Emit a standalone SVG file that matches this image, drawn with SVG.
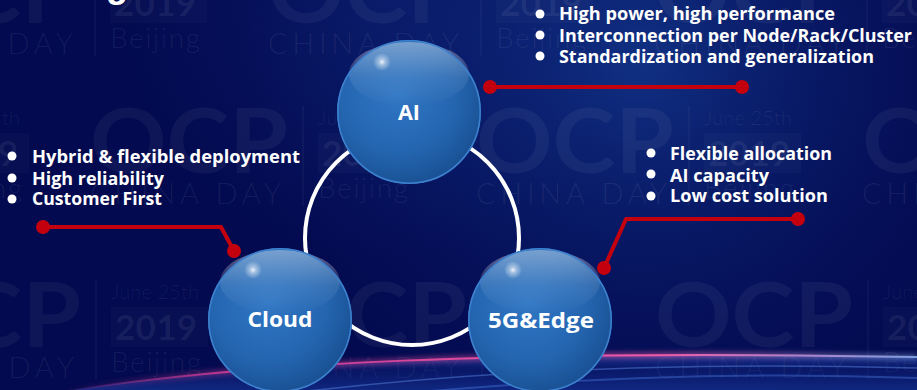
<svg xmlns="http://www.w3.org/2000/svg" width="917" height="390" viewBox="0 0 917 390">
<defs>
<style>
.bul{font-family:"Open Sans","Noto Sans","DejaVu Sans",sans-serif;font-weight:700;font-size:17.5px;fill:#fff}
.lbl{font-family:"Open Sans","Noto Sans","DejaVu Sans",sans-serif;font-weight:700;font-size:21px;fill:#fff;text-anchor:middle}
.wm{font-family:"Lato","Open Sans",sans-serif;fill:#fff}
.thin{font-weight:300;fill-opacity:0.07}
.red{stroke:#c4000f;stroke-width:4;fill:none;stroke-linejoin:round}
.dot{fill:#c4000f}
.bd{fill:#fff}
</style>
<radialGradient id="glowTop" cx="640" cy="60" r="400" gradientUnits="userSpaceOnUse">
<stop offset="0" stop-color="#1a4aa6" stop-opacity="0.6"/>
<stop offset="0.6" stop-color="#10308a" stop-opacity="0.22"/>
<stop offset="1" stop-color="#0a1f70" stop-opacity="0"/>
</radialGradient>
<radialGradient id="glowTL" cx="380" cy="0" r="260" gradientUnits="userSpaceOnUse">
<stop offset="0" stop-color="#12308a" stop-opacity="0.35"/>
<stop offset="1" stop-color="#12308a" stop-opacity="0"/>
</radialGradient>
<linearGradient id="bottomFill" x1="0" y1="0" x2="0" y2="1">
<stop offset="0" stop-color="#2b55c4" stop-opacity="0.55"/>
<stop offset="0.4" stop-color="#142f94" stop-opacity="0.35"/>
<stop offset="1" stop-color="#1d44b0" stop-opacity="0.6"/>
</linearGradient>
<linearGradient id="pink" x1="60" y1="0" x2="917" y2="0" gradientUnits="userSpaceOnUse">
<stop offset="0" stop-color="#e0409a" stop-opacity="0"/>
<stop offset="0.2" stop-color="#e0409a" stop-opacity="0.8"/>
<stop offset="0.7" stop-color="#f05aa8" stop-opacity="1"/>
<stop offset="1" stop-color="#8fb4f0" stop-opacity="0.8"/>
</linearGradient>
<filter id="blur" x="-10%" y="-200%" width="120%" height="500%">
<feGaussianBlur stdDeviation="2.5"/>
</filter>
<radialGradient id="sph" cx="0.42" cy="0.38" r="0.62">
<stop offset="0" stop-color="#3076c4"/>
<stop offset="0.65" stop-color="#2465b0"/>
<stop offset="1" stop-color="#1a5295"/>
</radialGradient>
<linearGradient id="gloss" x1="0" y1="0" x2="0" y2="1">
<stop offset="0" stop-color="#fff" stop-opacity="0.38"/>
<stop offset="0.55" stop-color="#fff" stop-opacity="0.1"/>
<stop offset="1" stop-color="#fff" stop-opacity="0"/>
</linearGradient>
<radialGradient id="spot">
<stop offset="0" stop-color="#fff" stop-opacity="0.9"/>
<stop offset="0.35" stop-color="#fff" stop-opacity="0.45"/>
<stop offset="1" stop-color="#fff" stop-opacity="0"/>
</radialGradient>
<g id="tile" class="wm">
<text x="0" y="65" font-size="90" font-weight="700" fill-opacity="0.05" textLength="198" lengthAdjust="spacingAndGlyphs">OCP</text>
<text x="0" y="96" font-size="29" class="thin" textLength="191" lengthAdjust="spacing">CHINA DAY</text>
<line x1="213" y1="-2" x2="213" y2="98" stroke="#fff" stroke-opacity="0.07" stroke-width="1"/>
<text x="228" y="17" font-size="20" class="thin" textLength="88" lengthAdjust="spacing">June 25th</text>
<rect x="228" y="25" width="97" height="40" fill="#fff" fill-opacity="0.025"/>
<text x="232" y="58" font-size="35" font-weight="700" fill-opacity="0.07" textLength="82" lengthAdjust="spacing">2019</text>
<text x="228" y="90" font-size="28" class="thin" textLength="90" lengthAdjust="spacing">Beijing</text>
</g>
</defs>

<g id="background">
<rect width="917" height="390" fill="#030a4f"/>
<rect width="917" height="390" fill="url(#glowTop)"/>
<rect width="917" height="390" fill="url(#glowTL)"/>
</g>

<g id="watermark">
<use href="#tile" x="-118" y="-42"/>
<use href="#tile" x="268" y="-42"/>
<use href="#tile" x="654" y="-42"/>
<use href="#tile" x="-296" y="108"/>
<use href="#tile" x="90" y="108"/>
<use href="#tile" x="476" y="108"/>
<use href="#tile" x="862" y="108"/>
<use href="#tile" x="-117" y="282"/>
<use href="#tile" x="269" y="282"/>
<use href="#tile" x="655" y="282"/>
</g>

<g id="light-streak">
<path d="M 60 392 C 250 362, 500 350, 917 357 L 917 390 L 60 390 Z" fill="url(#bottomFill)" opacity="0.9"/>
<path d="M 60 392 C 250 362, 500 350, 917 357" fill="none" stroke="url(#pink)" stroke-width="6" opacity="0.5" filter="url(#blur)"/>
<path d="M 60 392 C 250 362, 500 350, 917 357" fill="none" stroke="url(#pink)" stroke-width="2"/>
<path d="M 300 392 C 500 368, 700 362, 917 368" fill="none" stroke="#5f8fe8" stroke-width="1.5" opacity="0.45"/>
<path d="M 420 392 C 600 376, 760 372, 917 378" fill="none" stroke="#4a7ee0" stroke-width="2" opacity="0.4"/>
</g>

<text x="106" y="-3" font-family="Liberation Sans, sans-serif" font-weight="700" font-size="36" fill="#fff">g</text>

<g id="connectors">
<circle cx="412" cy="238" r="107" fill="none" stroke="#fff" stroke-width="4"/>
<g id="conn-ai">
<line class="red" x1="490" y1="87" x2="742" y2="87"/>
<circle class="dot" cx="490" cy="87" r="7"/>
<circle class="dot" cx="742" cy="87" r="7"/>
</g>
<g id="conn-cloud">
<polyline class="red" points="43,227 221,227 234,251"/>
<circle class="dot" cx="43" cy="227" r="7"/>
<circle class="dot" cx="234" cy="251" r="7"/>
</g>
<g id="conn-edge">
<polyline class="red" points="798,219 626,219 604,268"/>
<circle class="dot" cx="798" cy="219" r="7"/>
<circle class="dot" cx="604" cy="268" r="7"/>
</g>
</g>

<g id="node-ai" transform="translate(409,112)">
<circle r="72" fill="url(#sph)"/>
<ellipse cx="0" cy="-38" rx="60" ry="32" fill="url(#gloss)"/>
<circle cx="-27" cy="-50" r="9" fill="url(#spot)"/>
<circle r="71.2" fill="none" stroke="#3c80ce" stroke-width="1.6"/>
<text class="lbl" x="0" y="8" textLength="22" lengthAdjust="spacingAndGlyphs">AI</text>
</g>

<g id="node-cloud" transform="translate(280,320)">
<circle r="72" fill="url(#sph)"/>
<ellipse cx="0" cy="-38" rx="60" ry="32" fill="url(#gloss)"/>
<circle cx="-27" cy="-50" r="9" fill="url(#spot)"/>
<circle r="71.2" fill="none" stroke="#3c80ce" stroke-width="1.6"/>
<text class="lbl" x="0" y="7" textLength="65" lengthAdjust="spacingAndGlyphs">Cloud</text>
</g>

<g id="node-edge" transform="translate(540,320)">
<circle r="72" fill="url(#sph)"/>
<ellipse cx="0" cy="-38" rx="60" ry="32" fill="url(#gloss)"/>
<circle cx="-27" cy="-50" r="9" fill="url(#spot)"/>
<circle r="71.2" fill="none" stroke="#3c80ce" stroke-width="1.6"/>
<text class="lbl" x="1" y="8" textLength="106" lengthAdjust="spacingAndGlyphs">5G&amp;Edge</text>
</g>

<g id="notes-ai">
<circle class="bd" cx="540" cy="14" r="4.5"/>
<circle class="bd" cx="540" cy="35" r="4.5"/>
<circle class="bd" cx="540" cy="56" r="4.5"/>
<text class="bul" x="559" y="20" textLength="276" lengthAdjust="spacingAndGlyphs">High power, high performance</text>
<text class="bul" x="559" y="41.5" textLength="353" lengthAdjust="spacingAndGlyphs">Interconnection per Node/Rack/Cluster</text>
<text class="bul" x="559" y="63" textLength="315" lengthAdjust="spacingAndGlyphs">Standardization and generalization</text>
</g>

<g id="notes-cloud">
<circle class="bd" cx="12" cy="156" r="4.5"/>
<circle class="bd" cx="12" cy="178" r="4.5"/>
<circle class="bd" cx="12" cy="199" r="4.5"/>
<text class="bul" x="32" y="162.5" textLength="268" lengthAdjust="spacingAndGlyphs">Hybrid &amp; flexible deployment</text>
<text class="bul" x="32" y="184.5" textLength="132" lengthAdjust="spacingAndGlyphs">High reliability</text>
<text class="bul" x="32" y="205" textLength="130" lengthAdjust="spacingAndGlyphs">Customer First</text>
</g>

<g id="notes-edge">
<circle class="bd" cx="651" cy="153" r="4.5"/>
<circle class="bd" cx="651" cy="174" r="4.5"/>
<circle class="bd" cx="651" cy="196" r="4.5"/>
<text class="bul" x="670" y="160" textLength="162" lengthAdjust="spacingAndGlyphs">Flexible allocation</text>
<text class="bul" x="670" y="181.5" textLength="99" lengthAdjust="spacingAndGlyphs">AI capacity</text>
<text class="bul" x="670" y="202" textLength="158" lengthAdjust="spacingAndGlyphs">Low cost solution</text>
</g>
</svg>
